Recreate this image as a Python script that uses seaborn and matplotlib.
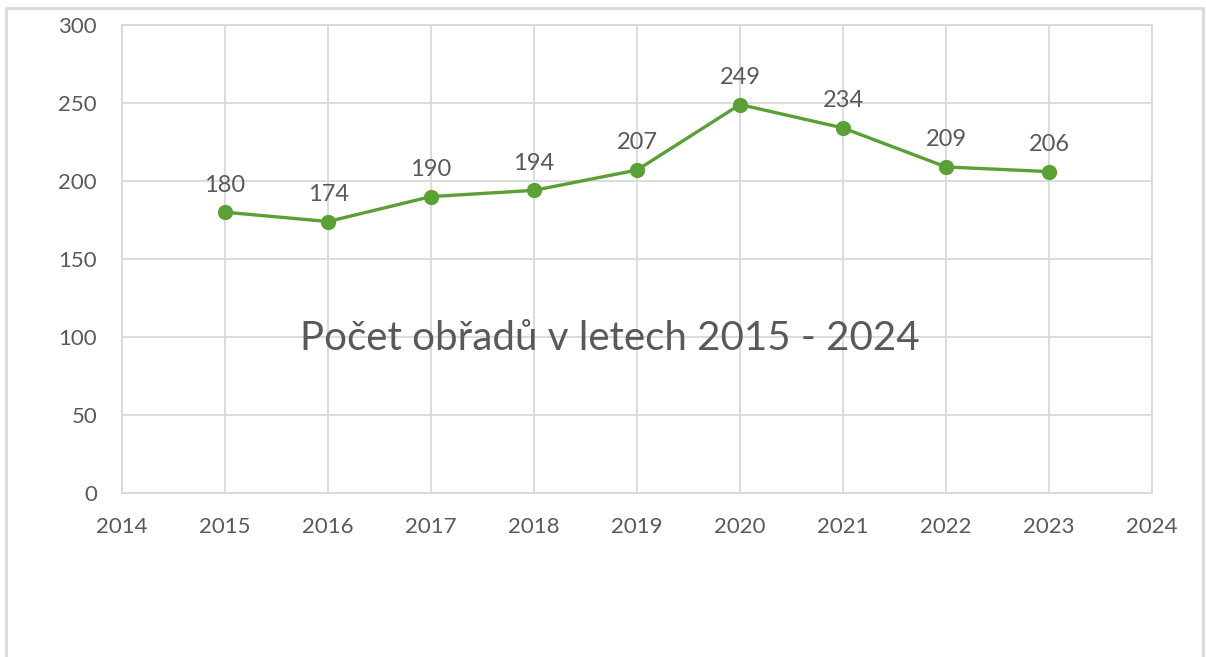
"""
Počet obřadů v letech 2015 - 2024 — čárový graf
"""

import matplotlib
matplotlib.use("Agg")
import matplotlib.pyplot as plt
import matplotlib.patches as mpatches
import pandas as pd
import seaborn as sns

YEARS = [2015, 2016, 2017, 2018, 2019, 2020, 2021, 2022, 2023]
COUNTS = [180, 174, 190, 194, 207, 249, 234, 209, 206]
TITLE = "Počet obřadů v letech 2015 - 2024"

GREEN = "#5b9f37"
GRID = "#d9d9d9"
TEXT = "#595959"

sns.set_style("white")
plt.rcParams["font.family"] = ["Lato", "DejaVu Sans"]

df = pd.DataFrame({"rok": YEARS, "pocet": COUNTS})

fig = plt.figure(figsize=(12.06, 6.57), dpi=100)
ax = fig.add_axes([0.1012, 0.2496, 0.854, 0.7124])

sns.lineplot(data=df, x="rok", y="pocet", color=GREEN, linewidth=2.4,
             marker="o", markersize=11, markeredgewidth=0, ax=ax)

for x, y in zip(YEARS, COUNTS):
    ax.annotate(str(y), (x, y), xytext=(0, 12), textcoords="offset points",
                ha="center", va="bottom", fontsize=17, color=TEXT)

ax.set_xlim(2014, 2024)
ax.set_ylim(0, 300)
ax.set_xticks(range(2014, 2025))
ax.set_yticks(range(0, 301, 50))
ax.grid(True, color=GRID, linewidth=1.3)
ax.set_axisbelow(True)
for s in ax.spines.values():
    s.set_color(GRID)
    s.set_linewidth(1.3)
ax.tick_params(axis="both", length=0, labelsize=16, labelcolor=TEXT)
ax.tick_params(axis="x", pad=17)
ax.tick_params(axis="y", pad=18)
ax.set_xlabel("")
ax.set_ylabel("")

ax.text(0.474, 0.331, TITLE, transform=ax.transAxes, ha="center", va="center",
        fontsize=29, color=TEXT)

# rámeček grafu
fig.patches.append(mpatches.Rectangle((6 / 1206, -0.05), 1197 / 1206, 1.05 - 8 / 657,
                                      transform=fig.transFigure, fill=False,
                                      edgecolor=GRID, linewidth=2))

fig.savefig("out.png", dpi=100)
plt.close(fig)
